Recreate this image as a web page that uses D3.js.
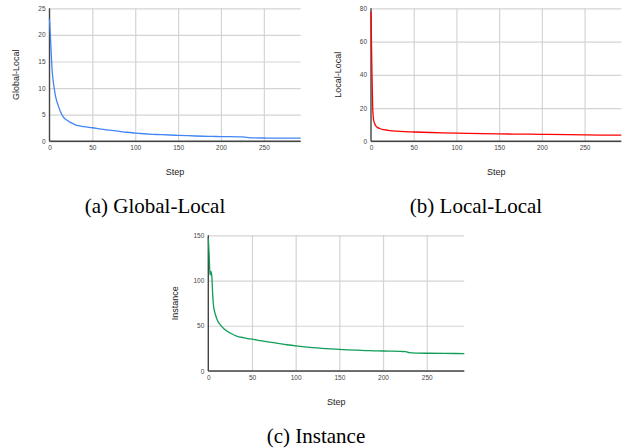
<body>
<script src="https://d3js.org/d3.v7.min.js"></script>
<style>
  body { margin: 0; background: #fff; }
  .tick text { font-family: "Liberation Sans", Arial, sans-serif; font-size: 6.5px; fill: #444; }
  .ylab, .xlab { font-family: "Liberation Sans", Arial, sans-serif; font-size: 9px; fill: #222; }
  .caption { font-family: "Liberation Serif", "Times New Roman", serif; font-size: 21px; fill: #000; }
</style>
<script>
// Global-Local loss
var glSteps = [0, 1, 2, 3, 5, 7, 10, 13, 16, 20, 25, 30, 35, 40, 50, 60, 70, 80, 90, 100, 110, 120, 130, 140, 150, 160, 170, 180, 190, 200, 210, 220, 225, 230, 235, 240, 250, 260, 270, 280, 293];
var glValues = [23, 20, 16.5, 13.5, 10.5, 8.5, 6.8, 5.5, 4.6, 4.0, 3.5, 3.1, 2.9, 2.75, 2.55, 2.3, 2.1, 1.9, 1.7, 1.55, 1.42, 1.32, 1.25, 1.18, 1.12, 1.06, 1.0, 0.95, 0.92, 0.88, 0.86, 0.84, 0.82, 0.72, 0.66, 0.63, 0.62, 0.6, 0.6, 0.58, 0.58];

// Local-Local loss
var llSteps = [0, 1, 2, 3, 4, 6, 8, 10, 15, 20, 30, 40, 50, 70, 100, 130, 150, 180, 200, 230, 250, 270, 293];
var llValues = [78, 45, 20, 13, 11, 9, 8.2, 7.7, 7.0, 6.6, 6.1, 5.8, 5.6, 5.3, 4.9, 4.6, 4.45, 4.3, 4.2, 4.0, 3.85, 3.75, 3.7];

// Instance loss
var inSteps = [0, 1, 2, 3, 4, 5, 6, 8, 10, 13, 16, 20, 25, 30, 35, 40, 45, 50, 60, 70, 80, 90, 100, 110, 120, 130, 140, 150, 160, 170, 180, 190, 200, 210, 220, 226, 230, 240, 250, 270, 293];
var inValues = [147, 128, 106, 110, 105, 85, 72, 63, 57, 52, 48.5, 45, 42, 39.5, 37.8, 37, 35.8, 35.2, 33.5, 32, 30.5, 29, 27.7, 26.6, 25.8, 25, 24.4, 23.9, 23.4, 23, 22.6, 22.3, 22.1, 21.9, 21.6, 21.4, 20.2, 19.8, 19.6, 19.4, 19.3];

var xTicks = [0, 50, 100, 150, 200, 250];
var glTicks = [0, 5, 10, 15, 20, 25];
var llTicks = [0, 20, 40, 60, 80];
var inTicks = [0, 50, 100, 150];

var svg = d3.select("body").append("svg")
    .attr("width", 628)
    .attr("height", 448);

function drawChart(c) {
    var width = c.right - c.left,
        height = c.bottom - c.top;
    var g = svg.append("g")
        .attr("transform", "translate(" + c.left + "," + c.top + ")");

    var x = d3.scaleLinear().domain([0, 293]).range([0, width]);
    var y = d3.scaleLinear().domain([0, d3.max(c.yTicks)]).range([height, 0]);

    // gridlines
    g.append("g")
        .call(d3.axisLeft(y).tickValues(c.yTicks).tickSize(-width).tickFormat(""))
        .call(a => a.select(".domain").remove())
        .selectAll("line").attr("stroke", "#d4d4d4").attr("stroke-width", 1.2);
    g.append("g")
        .attr("transform", "translate(0," + height + ")")
        .call(d3.axisBottom(x).tickValues(xTicks.slice(1)).tickSize(-height).tickFormat(""))
        .call(a => a.select(".domain").remove())
        .selectAll("line").attr("stroke", "#d4d4d4").attr("stroke-width", 1.2);

    // tick labels
    g.append("g")
        .call(d3.axisLeft(y).tickValues(c.yTicks).tickSize(0).tickPadding(4))
        .call(a => a.select(".domain").remove());
    g.append("g")
        .attr("transform", "translate(0," + height + ")")
        .call(d3.axisBottom(x).tickValues(xTicks).tickSize(0).tickPadding(4))
        .call(a => a.select(".domain").remove());

    // axis lines
    g.append("line").attr("x1", 0).attr("x2", 0).attr("y1", 0).attr("y2", height)
        .attr("stroke", "#444").attr("stroke-width", 1.4);
    g.append("line").attr("x1", 0).attr("x2", width).attr("y1", height).attr("y2", height)
        .attr("stroke", "#444").attr("stroke-width", 1.4);

    var pts = c.steps.map((s, i) => [s, c.values[i]]);
    g.append("path")
        .datum(pts)
        .attr("fill", "none")
        .attr("stroke", c.color)
        .attr("stroke-width", 1.3)
        .attr("d", d3.line().x(d => x(d[0])).y(d => y(d[1])).curve(d3.curveMonotoneX));

    g.append("text")
        .attr("class", "ylab")
        .attr("text-anchor", "middle")
        .attr("transform", "translate(-33.5," + (height / 2) + ") rotate(-90)")
        .attr("dy", "0.35em")
        .text(c.yLabel);
    g.append("text")
        .attr("class", "xlab")
        .attr("text-anchor", "middle")
        .attr("x", width / 2)
        .attr("y", height + 34)
        .text("Step");

    svg.append("text")
        .attr("class", "caption")
        .attr("text-anchor", "middle")
        .attr("x", c.capX)
        .attr("y", c.capY)
        .text(c.caption);
}

drawChart({left: 49.5, top: 8.3, right: 300.7, bottom: 141.3, steps: glSteps, values: glValues,
    yTicks: glTicks, color: "#4285f4", yLabel: "Global-Local", caption: "(a) Global-Local", capX: 155, capY: 212.7});
drawChart({left: 371, top: 8.3, right: 621.3, bottom: 141.3, steps: llSteps, values: llValues,
    yTicks: llTicks, color: "#ff0000", yLabel: "Local-Local", caption: "(b) Local-Local", capX: 476, capY: 212.7});
drawChart({left: 208.3, top: 235.3, right: 464.3, bottom: 371, steps: inSteps, values: inValues,
    yTicks: inTicks, color: "#0f9d58", yLabel: "Instance", caption: "(c) Instance", capX: 316, capY: 442.7});
</script>
</body>
